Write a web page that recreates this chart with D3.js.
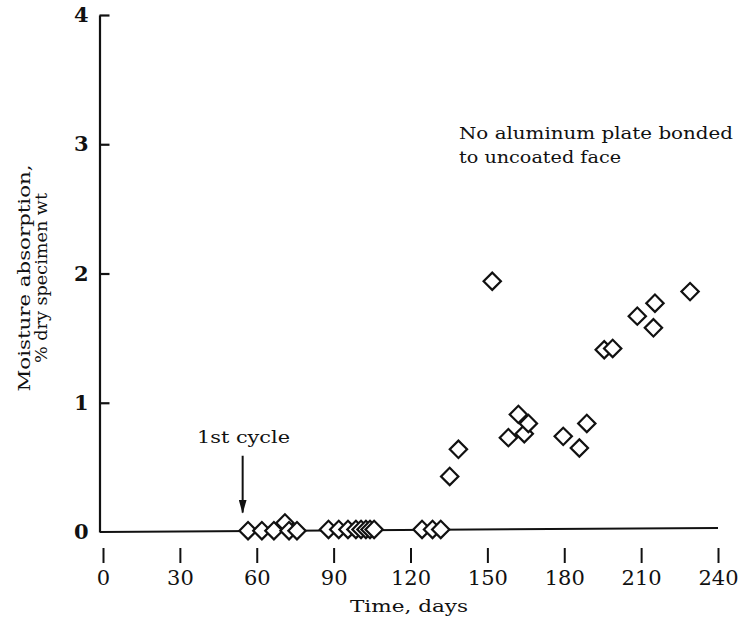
<!DOCTYPE html>
<html><head><meta charset="utf-8">
<script src="https://cdn.jsdelivr.net/npm/d3@7/dist/d3.min.js"></script>
<style>body{margin:0;background:#fff}svg{display:block}text{font-family:"DejaVu Serif","Liberation Serif",serif;fill:#111}</style>
</head><body><svg id="c" width="744" height="621"></svg>
<script>
const xTicks = [0,30,60,90,120,150,180,210,240];
const yTicks = [0,1,2,3,4];
const days = [56.6,62,66.7,71,72.6,75.7,88,92,95.6,98.7,100.7,102.6,104.2,105.8,124.5,128.6,131.8,
  135.3,138.7,151.9,158.2,162.1,164.4,166,179.6,185.9,188.8,195.6,198.9,208.5,214.8,215.4,229.1];
const moisture = [0.01,0.01,0.01,0.07,0.01,0.01,0.02,0.02,0.02,0.02,0.02,0.02,0.02,0.02,0.02,0.02,0.02,
  0.43,0.64,1.94,0.73,0.91,0.76,0.84,0.74,0.65,0.84,1.41,1.42,1.67,1.58,1.77,1.86];
const note = ["No aluminum plate bonded","to uncoated face"];
const yTitle = ["Moisture absorption,","% dry specimen wt"];

const svg = d3.select("#c");
const x = d3.scaleLinear().domain([0,240]).range([103,718]);
const y = d3.scaleLinear().domain([0,4]).range([532,15]);

// y axis
const ya = svg.append("g").attr("transform","translate(99.5,0)")
  .call(d3.axisLeft(y).tickValues(yTicks).tickFormat(d3.format("d")).tickSizeInner(-10).tickSizeOuter(0).tickPadding(11));
ya.select(".domain").attr("stroke","#111").attr("stroke-width",2.2);
ya.selectAll(".tick line").attr("stroke","#111").attr("stroke-width",2.2);
ya.selectAll(".tick").filter(d=>d===0).select("line").remove();
ya.selectAll("text").attr("font-size",21).attr("font-family","Liberation Serif").attr("font-weight","bold").attr("fill","#111");

// x axis line
svg.append("line").attr("x1",x(0)-3).attr("x2",x(240)).attr("y1",y(0)).attr("y2",y(0)-4)
  .attr("stroke","#111").attr("stroke-width",2);

const xa = svg.append("g").attr("transform",`translate(0,${y(0)})`)
  .call(d3.axisBottom(x).tickValues(xTicks).tickFormat(d3.format("d")).tickSizeInner(0).tickSizeOuter(0).tickPadding(38));
xa.select(".domain").remove();
xa.selectAll(".tick line").attr("y1",16).attr("y2",31).attr("stroke","#111").attr("stroke-width",2);
xa.selectAll("text").attr("font-size",21).attr("font-family","Liberation Serif").attr("fill","#111");

// axis titles
svg.append("text").attr("x",409).attr("y",612).attr("text-anchor","middle").attr("font-size",17)
  .attr("textLength",118).attr("lengthAdjust","spacingAndGlyphs").text("Time, days");
yTitle.forEach((t,i)=>{
  svg.append("text").attr("transform",`translate(${i===0?30:47},278) rotate(-90)`).attr("text-anchor","middle")
    .attr("font-size",17).attr("textLength",i===0?227:170).attr("lengthAdjust","spacingAndGlyphs").text(t);
});

// annotations
note.forEach((t,i)=>{
  svg.append("text").attr("x",459).attr("y",139+i*24).attr("font-size",17)
    .attr("textLength",i===0?274:162).attr("lengthAdjust","spacingAndGlyphs").text(t);
});
svg.append("text").attr("x",197).attr("y",443).attr("font-size",17)
  .attr("textLength",93).attr("lengthAdjust","spacingAndGlyphs").text("1st cycle");
svg.append("defs").append("marker").attr("id","ah").attr("viewBox","0 0 14 8").attr("refX",13).attr("refY",4)
  .attr("markerWidth",14).attr("markerHeight",8).attr("markerUnits","userSpaceOnUse").attr("orient","auto")
  .append("path").attr("d","M0,0L14,4L0,8Z").attr("fill","#111");
svg.append("line").attr("x1",x(54.5)).attr("x2",x(54.5)).attr("y1",y(0.59)).attr("y2",y(0.15))
  .attr("stroke","#111").attr("stroke-width",2).attr("marker-end","url(#ah)");

// points
const sym = d3.symbol().type(d3.symbolSquare).size(150);
svg.append("g").selectAll("path").data(days.map((d,i)=>[d,moisture[i]])).join("path")
  .attr("d",sym).attr("transform",d=>`translate(${x(d[0])},${y(d[1])}) rotate(45)`)
  .attr("fill","#fff").attr("stroke","#111").attr("stroke-width",2.2);
</script></body></html>
